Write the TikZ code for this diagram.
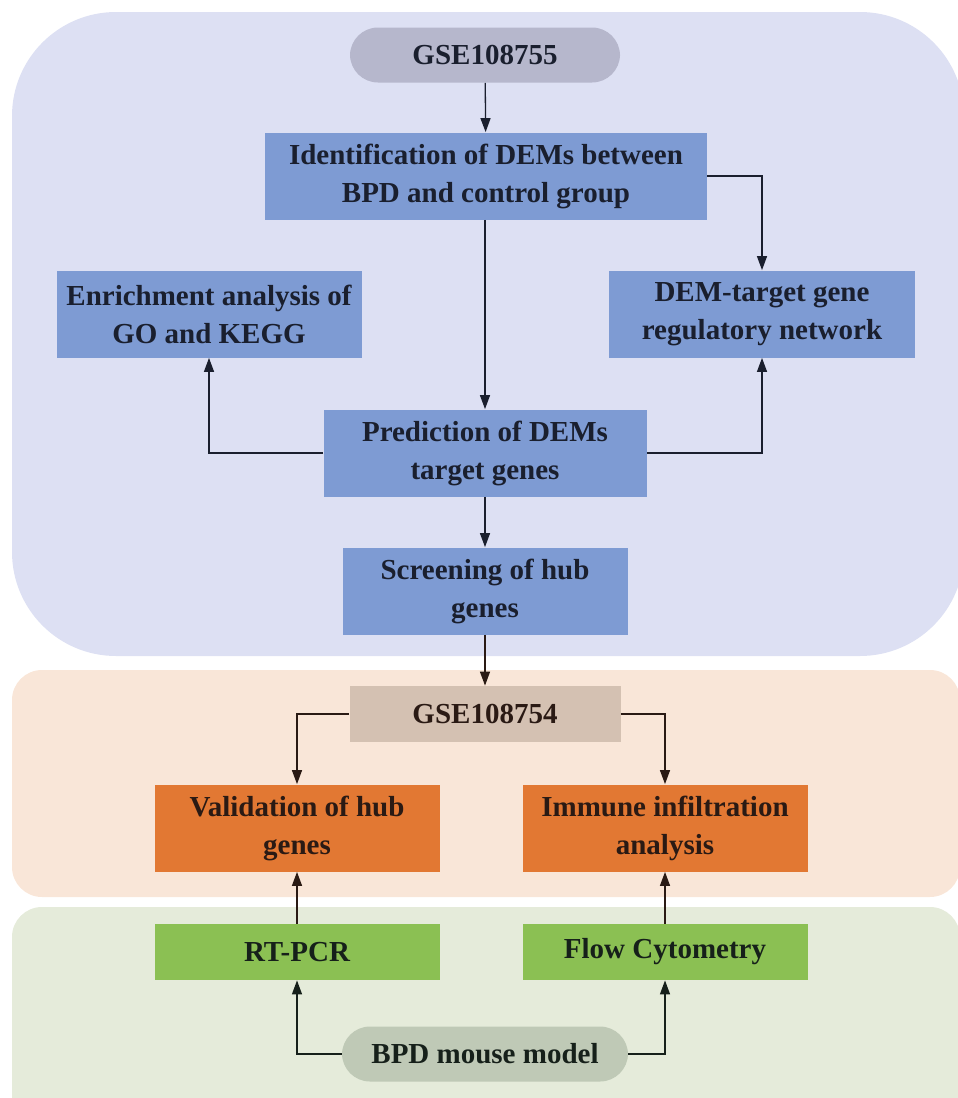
\documentclass[tikz,border=0pt]{standalone}
\usepackage{fontspec}
\setmainfont{Liberation Serif}
\usetikzlibrary{arrows.meta}
\definecolor{panelblue}{HTML}{DDE0F3}
\definecolor{panelpeach}{HTML}{F9E6D8}
\definecolor{panelgreen}{HTML}{E5EBDA}
\definecolor{boxblue}{HTML}{7E9BD3}
\definecolor{gsegray}{HTML}{B6B7CC}
\definecolor{gsetan}{HTML}{D4C1B2}
\definecolor{boxorange}{HTML}{E27833}
\definecolor{boxgreen}{HTML}{8BC053}
\definecolor{mousegray}{HTML}{BFC9B6}
\definecolor{inkblue}{HTML}{1A1F2E}
\definecolor{inkbrown}{HTML}{2A1A14}
\definecolor{inkgreen}{HTML}{16201A}

\begin{document}
\begin{tikzpicture}[x=0.5pt,y=-0.5pt,
  txt/.style={font=\fontsize{14.5}{19}\selectfont\bfseries, align=center, inner sep=0pt},
  stepbox/.style={txt, fill=boxblue, text=inkblue, minimum height=43.5pt},
  pill/.style={txt, rounded corners=14pt, minimum height=27.5pt},
  arr/.style={-{Triangle[length=7pt,width=5pt]}, line width=0.65pt}]
  \useasboundingbox (0,0) rectangle (958,1098);
  \clip (0,0) rectangle (958,1098);
  % background panels
  \fill[panelblue, rounded corners=52pt] (12,12) rectangle (964,656);
  \fill[panelpeach, rounded corners=15pt] (12,670) rectangle (960,897);
  \fill[panelgreen, rounded corners=15pt] (12,907) rectangle (960,1130);

  % discovery cohort
  \node[pill, fill=gsegray, text=inkblue, minimum width=135pt] (gseA) at (485,55) {GSE108755};
  \node[stepbox, minimum width=221pt] (ident) at (486,176) {Identification of DEMs between\\BPD and control group};
  \node[stepbox, minimum width=152.5pt] (enrich) at (209,314) {Enrichment analysis of\\GO and KEGG};
  \node[stepbox, minimum width=153pt] (net) at (762,314) {DEM-target gene\\regulatory network};
  \node[stepbox, minimum width=161.5pt] (pred) at (485,453) {Prediction of DEMs\\target genes};
  \node[stepbox, minimum width=142.5pt] (hub) at (485,591) {Screening of hub\\genes};

  % validation cohort
  \node[txt, fill=gsetan, text=inkbrown, minimum width=135.5pt, minimum height=28pt] (gseB) at (485,714) {GSE108754};
  \node[txt, fill=boxorange, text=inkbrown, minimum width=142.5pt, minimum height=43.5pt] (valid) at (297,828) {Validation of hub\\genes};
  \node[txt, fill=boxorange, text=inkbrown, minimum width=142.5pt, minimum height=43.5pt] (immune) at (665,828) {Immune infiltration\\analysis};

  % experiments
  \node[txt, fill=boxgreen, text=inkgreen, minimum width=142.5pt, minimum height=28pt] (pcr) at (297,952) {RT-PCR};
  \node[txt, fill=boxgreen, text=inkgreen, minimum width=142.5pt, minimum height=28pt] (flow) at (665,952) {Flow Cytometry};
  \node[pill, fill=mousegray, text=inkgreen, minimum width=143pt] (mouse) at (485,1054) {BPD mouse model};

  \begin{scope}[inkblue]
    \draw[arr] (gseA) -- (ident);
    \draw[arr] (ident.east) -| (net.north);
    \draw[arr] (ident.south -| pred.north) -- (pred.north);
    \draw[arr] (pred.west) -| (enrich.south);
    \draw[arr] (pred.east) -| (net.south);
    \draw[arr] (pred) -- (hub);
  \end{scope}
  \draw[arr, inkbrown] (hub) -- (gseB);
  \draw[arr, inkbrown] (gseB.west) -| (valid.north);
  \draw[arr, inkbrown] (gseB.east) -| (immune.north);
  \draw[arr, inkbrown] (pcr) -- (valid);
  \draw[arr, inkbrown] (flow) -- (immune);
  \draw[arr, inkgreen] (mouse.west) -| (pcr.south);
  \draw[arr, inkgreen] (mouse.east) -| (flow.south);
\end{tikzpicture}
\end{document}
